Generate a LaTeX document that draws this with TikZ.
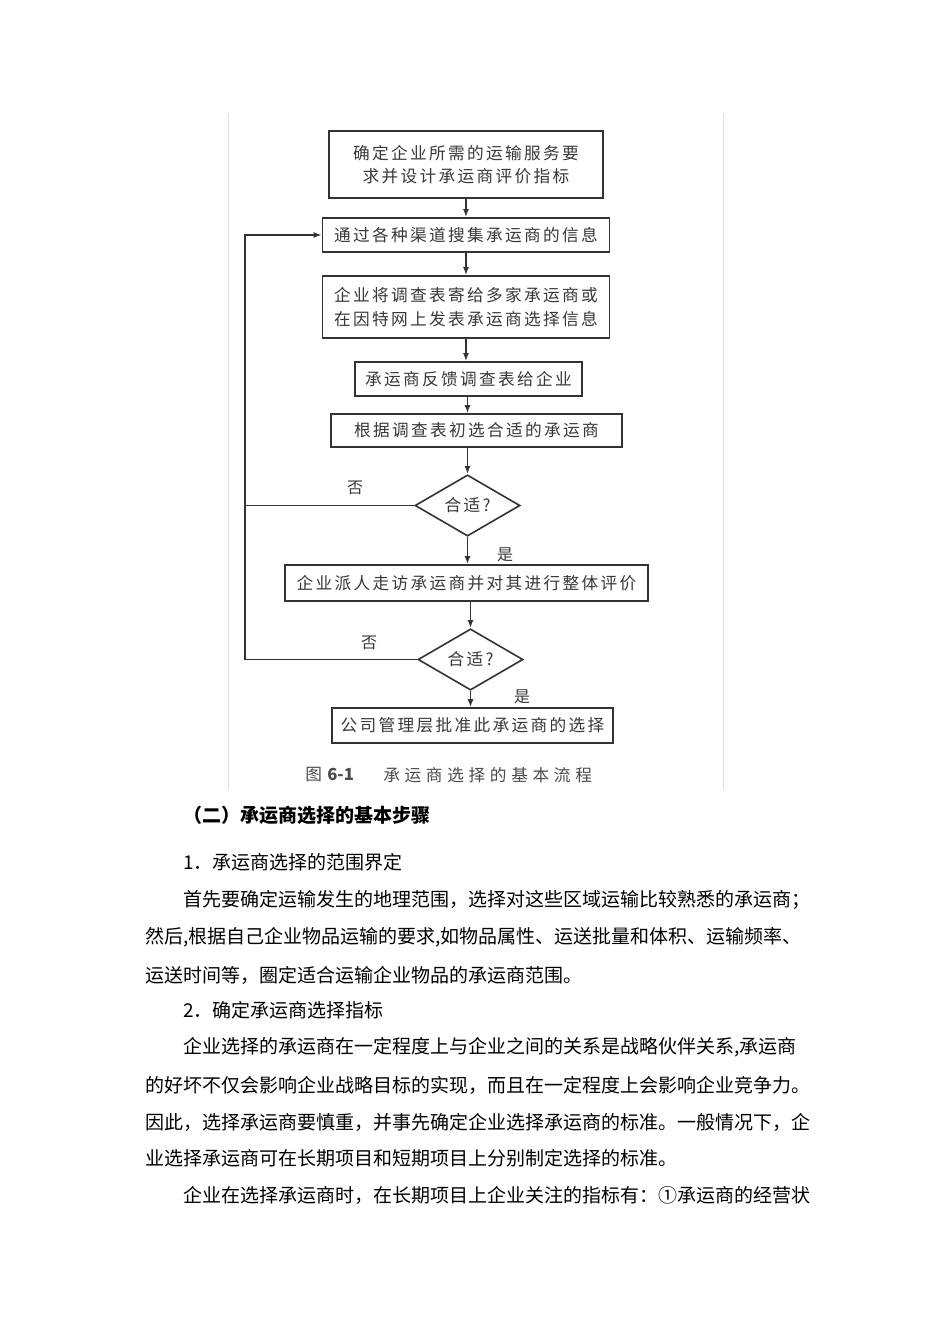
\documentclass[tikz,border=0pt]{standalone}
\usepackage{fontspec}
\usetikzlibrary{shapes.geometric,arrows.meta}
\newfontfamily\cjk{Noto Sans CJK SC}
\newfontfamily\cjkls[LetterSpace=14]{Noto Sans CJK SC}
\newfontfamily\cjkcap[LetterSpace=28]{Noto Sans CJK SC}
\begin{document}
\begin{tikzpicture}[x=0.75pt,y=-0.75pt,
  boxs/.style={draw=black!80, line width=1.2pt, inner sep=0pt, align=center, text=black!78,
    font=\cjkls\fontsize{12.5}{17.5}\selectfont},
  dia/.style={diamond, draw=black!80, line width=1.2pt, inner sep=0pt, minimum width=78.75pt,
    minimum height=39.75pt, text=black!78, font=\cjkls\fontsize{12.5}{14}\selectfont},
  conn/.style={draw=black!80, line width=1.2pt},
  arr/.style={conn, -{Latex[length=6pt,width=4.5pt]}},
  lab/.style={text=black!78, inner sep=0pt, font=\cjk\fontsize{12}{14}\selectfont},
  captxt/.style={text=black!70, inner sep=0pt, anchor=west, font=\cjkcap\fontsize{12.5}{14}\selectfont},
  bodytext/.style={anchor=west, inner sep=0pt, font=\cjk\fontsize{14.25}{17}\selectfont},
  imgedge/.style={draw=black!12, line width=0.6pt}]
\fill[white] (0,0) rectangle (950,1344);
\useasboundingbox (0,0) rectangle (950,1344);
% edges of the scanned figure
\draw[imgedge] (228,113) -- (228,790);
\draw[imgedge] (723,113) -- (723,790);
% flowchart
\node[boxs, minimum width=205.5pt, minimum height=50.25pt] (b1) at (466,164.5) {确定企业所需的运输服务要\\求并设计承运商评价指标};
\node[boxs, minimum width=215.25pt, minimum height=25.5pt] (b2) at (466,235) {通过各种渠道搜集承运商的信息};
\node[boxs, minimum width=215.25pt, minimum height=46.5pt] (b3) at (466,307) {企业将调查表寄给多家承运商或\\在因特网上发表承运商选择信息};
\node[boxs, minimum width=170.25pt, minimum height=25.5pt] (b4) at (468.5,379) {承运商反馈调查表给企业};
\node[boxs, minimum width=218.25pt, minimum height=24.75pt] (b5) at (476.5,430.5) {根据调查表初选合适的承运商};
\node[dia] (d1) at (467.5,505.5) {合适?};
\node[boxs, minimum width=272.25pt, minimum height=27pt] (b6) at (466.5,583) {企业派人走访承运商并对其进行整体评价};
\node[dia, minimum height=41.25pt] (d2) at (470.5,659.5) {合适?};
\node[boxs, minimum width=210.75pt, minimum height=26.25pt] (b7) at (472.5,725.5) {公司管理层批准此承运商的选择};
\draw[arr] (b1.south) -- (b1.south |- b2.north);
\draw[arr] (b2.south) -- (b2.south |- b3.north);
\draw[arr] (b3.south) -- (b3.south |- b4.north);
\draw[arr] (b4.south -| d1.north) -- (d1.north |- b5.north);
\draw[arr] (d1.north |- b5.south) -- (d1.north);
\draw[arr] (d1.south) -- (d1.south |- b6.north);
\draw[arr] (d2.north |- b6.south) -- (d2.north);
\draw[arr] (d2.south) -- (d2.south |- b7.north);
\coordinate (lp) at (245,505.5);
\draw[arr] (d1.west) -- (lp) |- (b2.west);
\draw[conn] (d2.west) -| (lp);
\node[lab] (no1) at (355,488) {否};
\node[lab] (yes1) at (505,555) {是};
\node[lab] (no2) at (369,643) {否};
\node[lab] (yes2) at (522,697) {是};
\node[captxt, font=\cjk\fontsize{12.5}{14}\selectfont] (capnum) at (305,775) {图\hspace{4pt}\textbf{6-1}};
\node[captxt] (captext) at (383,775) {承运商选择的基本流程};
% body text
\node[bodytext] (h) at (183,815) {\bfseries （二）承运商选择的基本步骤};
\node[bodytext] (s1) at (183,862) {1．承运商选择的范围界定};
\node[bodytext] (p1) at (183,900) {首先要确定运输发生的地理范围，选择对这些区域运输比较熟悉的承运商；};
\node[bodytext] (p2) at (145,937) {然后,根据自己企业物品运输的要求,如物品属性、运送批量和体积、运输频率、};
\node[bodytext] (p3) at (145,975) {运送时间等，圈定适合运输企业物品的承运商范围。};
\node[bodytext] (s2) at (183,1010) {2．确定承运商选择指标};
\node[bodytext] (q1) at (183,1047) {企业选择的承运商在一定程度上与企业之间的关系是战略伙伴关系,承运商};
\node[bodytext] (q2) at (145,1085) {的好坏不仅会影响企业战略目标的实现，而且在一定程度上会影响企业竞争力。};
\node[bodytext] (q3) at (145,1122) {因此，选择承运商要慎重，并事先确定企业选择承运商的标准。一般情况下，企};
\node[bodytext] (q4) at (145,1158) {业选择承运商可在长期项目和短期项目上分别制定选择的标准。};
\node[bodytext] (q5) at (183,1195) {企业在选择承运商时，在长期项目上企业关注的指标有：①承运商的经营状};
\end{tikzpicture}
\end{document}
